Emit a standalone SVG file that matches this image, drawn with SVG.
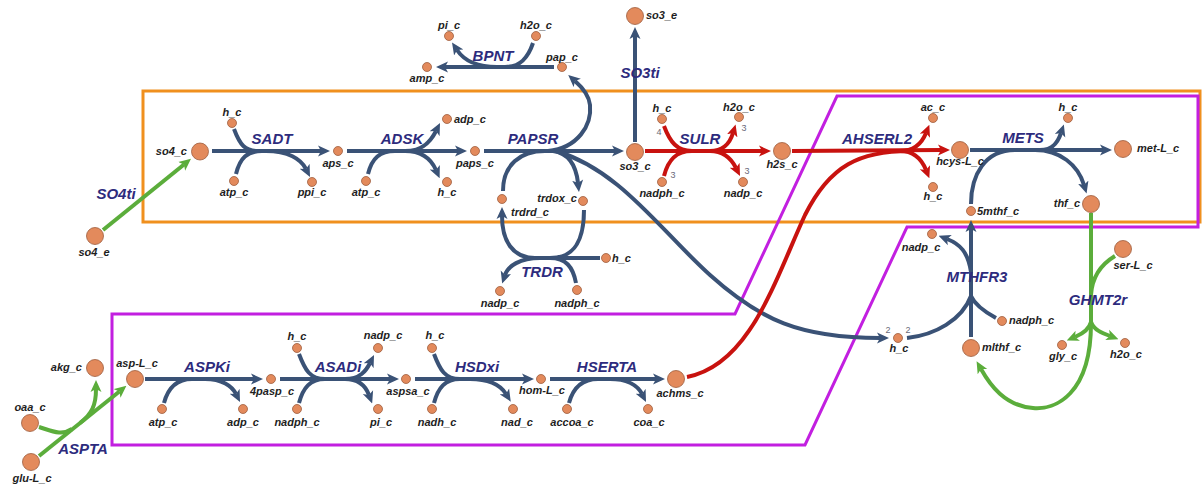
<svg xmlns="http://www.w3.org/2000/svg" width="1204" height="484" viewBox="0 0 1204 484">
<style>
.bg{fill:#ffffff}
.box-o{fill:none;stroke:#f0901e;stroke-width:3}
.box-p{fill:none;stroke:#c21fe0;stroke-width:3}
.n{fill:none;stroke:#3a5276;stroke-width:4}
.r{fill:none;stroke:#c8120f;stroke-width:4}
.g{fill:none;stroke:#5bad3b;stroke-width:4}
.an{marker-end:url(#an)}
.ar{marker-end:url(#ar)}
.ag{marker-end:url(#ag)}
circle{fill:#e38a5c;stroke:#9d5d3e;stroke-width:0.8}
.m{font-family:"Liberation Sans",Arial,sans-serif;font-size:11px;font-weight:bold;font-style:italic;fill:#1e1e1e;text-anchor:middle}
.s{text-anchor:start}
.e{text-anchor:end}
.rx{font-family:"Liberation Sans",Arial,sans-serif;font-size:15px;font-weight:bold;font-style:italic;fill:#2d2b7d;text-anchor:middle}
.st{font-family:"Liberation Sans",Arial,sans-serif;font-size:9px;fill:#6a6a7a;text-anchor:middle}
</style>
<defs>
<marker id="an" viewBox="0 0 12 12" refX="3" refY="6" markerWidth="12" markerHeight="12" markerUnits="userSpaceOnUse" orient="auto"><path d="M0,0.5 L12,6 L0,11.5 L3,6 z" fill="#3a5276"/></marker>
<marker id="ar" viewBox="0 0 12 12" refX="3" refY="6" markerWidth="12" markerHeight="12" markerUnits="userSpaceOnUse" orient="auto"><path d="M0,0.5 L12,6 L0,11.5 L3,6 z" fill="#c8120f"/></marker>
<marker id="ag" viewBox="0 0 12 12" refX="3" refY="6" markerWidth="12" markerHeight="12" markerUnits="userSpaceOnUse" orient="auto"><path d="M0,0.5 L12,6 L0,11.5 L3,6 z" fill="#5bad3b"/></marker>
</defs>
<rect class="bg" x="0" y="0" width="1204" height="484"/>
<g id="compartments">
<rect class="box-o" x="143" y="91" width="1057" height="131"/>
<polygon class="box-p" points="112,314 735,314 837,96 1198,96 1198,227 907,227 805,445 112,445"/>
</g>
<g id="connectors">
<!-- SO4ti -->
<path class="g ag" d="M103 230 L184 164.5"/>
<!-- SADT -->
<path class="n an" d="M212 151 L321 151"/>
<path class="n" d="M234 129 C240 145 245 151 258 151"/>
<path class="n" d="M236 174 C240 158 247 151 262 151"/>
<path class="n an" d="M266 151 C288 151 301 159 306 169"/>
<!-- ADSK -->
<path class="n an" d="M347 151 L458 151"/>
<path class="n" d="M368 174 C372 158 380 151 395 151"/>
<path class="n an" d="M405 151 C423 151 431 141 436 131"/>
<path class="n an" d="M405 151 C423 151 432 161 436 170"/>
<!-- PAPSR -->
<path class="n an" d="M484 151 L615 151"/>
<path class="n" d="M503 191 C503 165 520 151 545 151"/>
<path class="n an" d="M553 151 C568 153 576 165 578 183"/>
<path class="n an" d="M548 151 C578 148 592 125 590 105 C589 95 583 88 575 81"/>
<path class="n an" d="M556 151 C620 170 660 230 710 275 S800 338 880 338"/>
<!-- TRDR -->
<path class="n" d="M584 210 C584 240 575 258 550 258"/>
<path class="n an" d="M600 258 L535 258 C512 258 502 240 502 216"/>
<path class="n" d="M576 283 C573 267 566 258 550 258"/>
<path class="n an" d="M540 258 C520 258 508 266 505 275"/>
<!-- BPNT -->
<path class="n an" d="M554 67 L445 67"/>
<path class="n" d="M533 43 C528 58 520 67 505 67"/>
<path class="n an" d="M497 67 C478 67 465 62 457 50"/>
<!-- SO3ti -->
<path class="n an" d="M635 142 L635 36"/>
<!-- SULR -->
<path class="r ar" d="M645 151 L762 151"/>
<path class="r" d="M664 126 C670 142 677 151 692 151"/>
<path class="r" d="M664 176 C668 160 676 151 692 151"/>
<path class="r ar" d="M710 151 C724 151 730 143 733 133"/>
<path class="r ar" d="M710 151 C724 151 732 160 736 168"/>
<!-- AHSERL2 -->
<path class="r ar" d="M792 151 L941 150"/>
<path class="r" d="M687 377 C750 365 775 280 805 215 C830 165 860 151 910 151"/>
<path class="r ar" d="M900 151 C915 151 922 143 926 133"/>
<path class="r ar" d="M900 151 C915 151 922 160 926 170"/>
<!-- METS -->
<path class="n an" d="M970 150 L1103 150"/>
<path class="n" d="M971 204 C971 175 985 150 1015 150"/>
<path class="n an" d="M1040 150 C1053 150 1058 142 1061 133"/>
<path class="n an" d="M1035 150 C1060 150 1078 165 1084 185"/>
<!-- MTHFR3 -->
<path class="n an" d="M971 337 L971 229"/>
<path class="n" d="M907 338 C935 335 962 320 971 296"/>
<path class="n" d="M996 318 C985 312 975 305 971 296"/>
<path class="n an" d="M971 272 C968 252 960 244 947 239"/>
<!-- GHMT2r -->
<path class="g" d="M1091 213 L1091 323"/>
<path class="g" d="M1115 256 C1100 265 1092 278 1091 295"/>
<path class="g ag" d="M1091 322 C1089 330 1082 334 1075 337"/>
<path class="g ag" d="M1091 322 C1094 330 1102 333 1110 336"/>
<path class="g ag" d="M1091 323 C1091 395 1055 410 1033 408 C1005 406 990 385 981 369"/>
<!-- ASPTA -->
<path class="g ag" d="M39 456 L119.4 391.5"/>
<path class="g" d="M39 427 C52 431 62 436 72 429"/>
<path class="g ag" d="M80 423 C92 414 96 405 96 389"/>
<!-- ASPKi -->
<path class="n an" d="M145 379 L254 379"/>
<path class="n" d="M164 403 C168 388 176 379 192 379"/>
<path class="n an" d="M205 379 C222 379 232 386 236 394"/>
<!-- ASADi -->
<path class="n an" d="M280 379 L390 379"/>
<path class="n" d="M299 354 C305 370 310 379 325 379"/>
<path class="n" d="M299 403 C303 388 310 379 325 379"/>
<path class="n an" d="M345 379 C360 379 366 371 370 363"/>
<path class="n an" d="M345 379 C360 379 366 387 369 395"/>
<!-- HSDxi -->
<path class="n an" d="M415 379 L525 379"/>
<path class="n" d="M434 354 C440 370 445 379 460 379"/>
<path class="n" d="M434 403 C438 388 445 379 460 379"/>
<path class="n an" d="M470 379 C490 379 501 386 506 394"/>
<!-- HSERTA -->
<path class="n an" d="M550 379 L656 379"/>
<path class="n" d="M569 403 C573 388 582 379 598 379"/>
<path class="n an" d="M610 379 C628 379 638 386 642 394"/>
</g>
<g id="reactions">
<text class="rx" x="116" y="198.5">SO4ti</text>
<text class="rx" x="272" y="144">SADT</text>
<text class="rx" x="402" y="144">ADSK</text>
<text class="rx" x="533" y="143.5">PAPSR</text>
<text class="rx" x="493" y="60.5">BPNT</text>
<text class="rx s" x="640" y="77.5">SO3ti</text>
<text class="rx" x="542" y="277">TRDR</text>
<text class="rx" x="700" y="143.5">SULR</text>
<text class="rx" x="877" y="143.5">AHSERL2</text>
<text class="rx" x="1023" y="142.5">METS</text>
<text class="rx s" x="977" y="281.5">MTHFR3</text>
<text class="rx s" x="1098" y="304.5">GHMT2r</text>
<text class="rx" x="83" y="453.5">ASPTA</text>
<text class="rx" x="207" y="372">ASPKi</text>
<text class="rx" x="338" y="372">ASADi</text>
<text class="rx" x="477" y="372">HSDxi</text>
<text class="rx" x="607" y="372">HSERTA</text>
</g>
<g id="so4_e"><circle cx="95" cy="236" r="8.5"/><text class="m" x="94" y="256">so4_e</text></g>
<g id="so4_c"><circle cx="200" cy="151.5" r="8.5"/><text class="m e" x="187" y="155">so4_c</text></g>
<g id="h_c_sadt"><circle cx="232" cy="123" r="4.5"/><text class="m" x="232" y="116">h_c</text></g>
<g id="atp_c_sadt"><circle cx="234" cy="181" r="4.5"/><text class="m" x="234" y="196">atp_c</text></g>
<g id="ppi_c"><circle cx="312" cy="182" r="4.5"/><text class="m" x="312" y="196">ppi_c</text></g>
<g id="aps_c"><circle cx="338" cy="151" r="4.5"/><text class="m" x="338" y="166.5">aps_c</text></g>
<g id="atp_c_adsk"><circle cx="366" cy="181" r="4.5"/><text class="m" x="366" y="196">atp_c</text></g>
<g id="adp_c_adsk"><circle cx="447" cy="119" r="4.5"/><text class="m s" x="454" y="123">adp_c</text></g>
<g id="h_c_adsk"><circle cx="447" cy="182" r="4.5"/><text class="m" x="447" y="196">h_c</text></g>
<g id="paps_c"><circle cx="475" cy="151" r="4.5"/><text class="m" x="475" y="166.5">paps_c</text></g>
<g id="pi_c_bpnt"><circle cx="449" cy="36" r="4.5"/><text class="m" x="449" y="29">pi_c</text></g>
<g id="h2o_c_bpnt"><circle cx="536" cy="36" r="4.5"/><text class="m" x="536" y="29">h2o_c</text></g>
<g id="amp_c"><circle cx="427" cy="67" r="4.5"/><text class="m" x="427" y="82">amp_c</text></g>
<g id="pap_c"><circle cx="562" cy="67" r="4.5"/><text class="m" x="562" y="60.5">pap_c</text></g>
<g id="trdrd_c"><circle cx="502" cy="199" r="4.5"/><text class="m s" x="511" y="216">trdrd_c</text></g>
<g id="trdox_c"><circle cx="583" cy="201" r="4.5"/><text class="m e" x="577" y="202">trdox_c</text></g>
<g id="h_c_trdr"><circle cx="606" cy="258" r="4.5"/><text class="m s" x="612" y="262">h_c</text></g>
<g id="nadp_c_trdr"><circle cx="500" cy="291" r="4.5"/><text class="m" x="500" y="306.5">nadp_c</text></g>
<g id="nadph_c_trdr"><circle cx="577" cy="290" r="4.5"/><text class="m" x="577" y="306.5">nadph_c</text></g>
<g id="so3_e"><circle cx="635" cy="16" r="8.5"/><text class="m s" x="646" y="19">so3_e</text></g>
<g id="so3_c"><circle cx="635" cy="152" r="8.5"/><text class="m" x="635" y="169.5">so3_c</text></g>
<g id="h_c_sulr"><circle cx="662" cy="119" r="4.5"/><text class="m" x="662" y="112">h_c</text><text class="st" x="659" y="135">4</text></g>
<g id="nadph_c_sulr"><circle cx="662" cy="182" r="4.5"/><text class="m" x="662" y="196.5">nadph_c</text><text class="st" x="673" y="178">3</text></g>
<g id="h2o_c_sulr"><circle cx="739" cy="117" r="4.5"/><text class="m" x="739" y="111">h2o_c</text><text class="st" x="744" y="131">3</text></g>
<g id="nadp_c_sulr"><circle cx="743" cy="182" r="4.5"/><text class="m" x="743" y="197">nadp_c</text><text class="st" x="747" y="174">3</text></g>
<g id="h2s_c"><circle cx="782" cy="151" r="8.5"/><text class="m" x="782" y="168">h2s_c</text></g>
<g id="ac_c"><circle cx="933" cy="118" r="4.5"/><text class="m" x="933" y="111">ac_c</text></g>
<g id="h_c_ahserl2"><circle cx="933" cy="187" r="4.5"/><text class="m" x="933" y="200">h_c</text></g>
<g id="hcys-L_c"><circle cx="960" cy="150" r="8.5"/><text class="m" x="960" y="165">hcys-L_c</text></g>
<g id="h_c_mets"><circle cx="1068" cy="118" r="4.5"/><text class="m" x="1068" y="110.5">h_c</text></g>
<g id="met-L_c"><circle cx="1123" cy="149" r="8.5"/><text class="m s" x="1137" y="152">met-L_c</text></g>
<g id="thf_c"><circle cx="1091" cy="204" r="8.5"/><text class="m e" x="1080" y="207">thf_c</text></g>
<g id="5mthf_c"><circle cx="971" cy="211" r="4.5"/><text class="m s" x="977" y="215">5mthf_c</text></g>
<g id="nadp_c_mthfr3"><circle cx="932" cy="234" r="4.5"/><text class="m" x="921" y="250.5">nadp_c</text></g>
<g id="nadph_c_mthfr3"><circle cx="1002" cy="321" r="4.5"/><text class="m s" x="1009" y="324">nadph_c</text></g>
<g id="h_c_mthfr3"><circle cx="898" cy="338" r="4.5"/><text class="m" x="899" y="352">h_c</text><text class="st" x="888" y="333">2</text><text class="st" x="908" y="333">2</text></g>
<g id="mlthf_c"><circle cx="971" cy="348" r="8.5"/><text class="m s" x="982" y="350.5">mlthf_c</text></g>
<g id="ser-L_c"><circle cx="1123" cy="249" r="8.5"/><text class="m" x="1133" y="269">ser-L_c</text></g>
<g id="gly_c"><circle cx="1062" cy="345" r="4.5"/><text class="m" x="1063" y="360">gly_c</text></g>
<g id="h2o_c_ghmt"><circle cx="1125" cy="343" r="4.5"/><text class="m" x="1126" y="358">h2o_c</text></g>
<g id="akg_c"><circle cx="95" cy="368" r="8.5"/><text class="m e" x="82" y="371">akg_c</text></g>
<g id="oaa_c"><circle cx="30" cy="423" r="8.5"/><text class="m" x="30" y="411">oaa_c</text></g>
<g id="glu-L_c"><circle cx="31" cy="462" r="8.5"/><text class="m" x="32" y="482">glu-L_c</text></g>
<g id="asp-L_c"><circle cx="135" cy="379" r="8.5"/><text class="m" x="137" y="366.5">asp-L_c</text></g>
<g id="atp_c_aspk"><circle cx="162" cy="409" r="4.5"/><text class="m" x="163" y="425.5">atp_c</text></g>
<g id="adp_c_aspk"><circle cx="243" cy="409" r="4.5"/><text class="m" x="243" y="425.5">adp_c</text></g>
<g id="4pasp_c"><circle cx="271" cy="379" r="4.5"/><text class="m" x="272" y="394.5">4pasp_c</text></g>
<g id="h_c_asad"><circle cx="297" cy="348" r="4.5"/><text class="m" x="297" y="340">h_c</text></g>
<g id="nadph_c_asad"><circle cx="297" cy="409" r="4.5"/><text class="m" x="297" y="425.5">nadph_c</text></g>
<g id="nadp_c_asad"><circle cx="378" cy="348" r="4.5"/><text class="m" x="383" y="339">nadp_c</text></g>
<g id="pi_c_asad"><circle cx="378" cy="409" r="4.5"/><text class="m" x="381" y="425.5">pi_c</text></g>
<g id="aspsa_c"><circle cx="406" cy="379" r="4.5"/><text class="m" x="408" y="394.5">aspsa_c</text></g>
<g id="h_c_hsd"><circle cx="432" cy="348" r="4.5"/><text class="m" x="435" y="339">h_c</text></g>
<g id="nadh_c"><circle cx="432" cy="409" r="4.5"/><text class="m" x="437" y="425.5">nadh_c</text></g>
<g id="nad_c"><circle cx="513" cy="409" r="4.5"/><text class="m" x="517" y="425.5">nad_c</text></g>
<g id="hom-L_c"><circle cx="541" cy="379" r="4.5"/><text class="m" x="542" y="394">hom-L_c</text></g>
<g id="accoa_c"><circle cx="567" cy="409" r="4.5"/><text class="m" x="572" y="425.5">accoa_c</text></g>
<g id="coa_c"><circle cx="648" cy="409" r="4.5"/><text class="m" x="649" y="425.5">coa_c</text></g>
<g id="achms_c"><circle cx="676" cy="379" r="8.5"/><text class="m" x="680" y="397">achms_c</text></g>
</svg>
